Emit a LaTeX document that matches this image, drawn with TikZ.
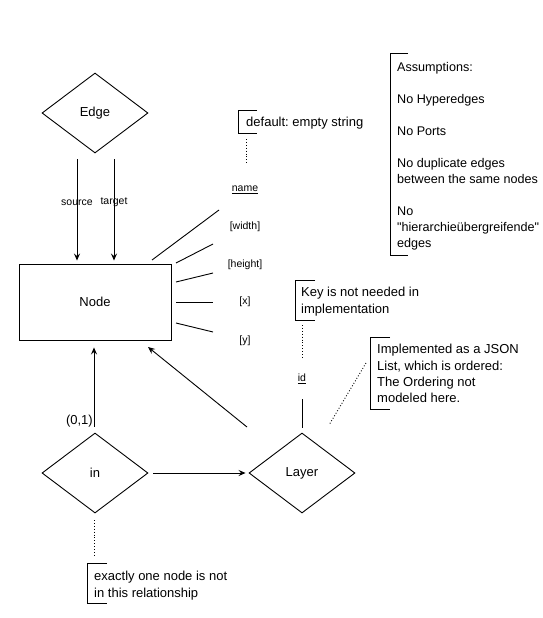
\documentclass[tikz,border=0pt]{standalone}
\usepackage{fontspec}
\setmainfont{Liberation Sans}
\newfontfamily\rawfont{Liberation Sans}[Ligatures=TeXOff]
\usetikzlibrary{shapes.geometric,arrows.meta,shadows}
\frenchspacing
\begin{document}
\begin{tikzpicture}[x=1pt,y=-1pt,
  lw/.style={line width=0.9pt},
  rel/.style={draw,lw,shape=diamond,minimum width=106pt,minimum height=80pt,inner sep=0pt,font=\fontsize{13}{15}\selectfont},
  ent/.style={draw,lw,fill=white,minimum width=152pt,minimum height=76pt,inner sep=0pt,font=\fontsize{13}{15}\selectfont,
     drop shadow={shadow xshift=1.3pt,shadow yshift=-1.3pt,fill=black!50,opacity=1}},
  attr/.style={inner sep=0pt,font=\fontsize{10.5}{12}\selectfont},
  lbl/.style={inner sep=0pt,font=\fontsize{10.5}{12}\selectfont},
  note/.style={inner sep=0pt,anchor=north west,align=left,font=\fontsize{13}{16.3}\selectfont},
  bracket/.style={lw},
  arr/.style={lw,-{Stealth[length=7pt,width=6pt,inset=2.5pt]}},
  dots/.style={lw,dotted},
  attrline/.style={lw}
]
\useasboundingbox (0,0) rectangle (542,618);

% entities and relationships
\node[rel] (edge) at (95,113) {Edge};
\node[ent] (nodeE) at (95,302) {Node};
\node[rel] (in) at (95,473) {in};
\node[rel] (layer) at (302,473) {Layer};

% attributes
\node[attr] (name) at (245,190) {\underline{name}};
\node[attr] (width) at (245,227) {[width]};
\node[attr] (height) at (245,265) {[height]};
\node[attr] (xat) at (245,302) {[x]};
\node[attr] (yat) at (245,341) {[y]};
\node[attr] (id) at (302,379) {\underline{id}};

% attribute lines
\coordinate (a1s) at (152,260); \coordinate (a1e) at (219,210);
\coordinate (a2s) at (176,263); \coordinate (a2e) at (213,244);
\coordinate (a3s) at (176,282); \coordinate (a3e) at (213,273);
\coordinate (a4s) at (176,302); \coordinate (a4e) at (213,302);
\coordinate (a5s) at (176,323); \coordinate (a5e) at (213,332);
\draw[attrline] (a1s) -- (a1e);
\draw[attrline] (a2s) -- (a2e);
\draw[attrline] (a3s) -- (a3e);
\draw[attrline] (a4s) -- (a4e);
\draw[attrline] (a5s) -- (a5e);
\coordinate (ids) at (302,399); \coordinate (ide) at (302,428);
\draw[attrline] (ids) -- (ide);

% arrows
\draw[arr,shorten <=6pt,shorten >=3pt] ([xshift=-18pt]edge.south) -- ([xshift=-18pt]nodeE.north)
  node[lbl,pos=0.45] {source};
\draw[arr,shorten <=6pt,shorten >=3pt] ([xshift=19pt]edge.south) -- ([xshift=19pt]nodeE.north)
  node[lbl,pos=0.44] {target};
\draw[arr,shorten <=6pt,shorten >=7pt] ([xshift=-1pt]in.north) -- ([xshift=-1pt]nodeE.south);
\node[inner sep=0pt,anchor=east,font=\fontsize{13}{15}\selectfont] (card) at (93,421) {(0,1)};
\coordinate (lnA) at (247,427); \coordinate (lnB) at (148,347);
\draw[arr] (lnA) -- (lnB);
\draw[arr,shorten <=5pt,shorten >=3pt] (in.east) -- (layer.west);

% notes
\node[note] (defnote) at (246,116.5) {\rule{0pt}{10pt}default: empty string};
\draw[bracket] (257,110) -- (238,110) -- (238,133) -- (257,133);
\coordinate (d1) at (246,139); \coordinate (d2) at (246,165);
\draw[dots] (d1) -- (d2);

\node[note,font=\fontsize{12.6}{16}\selectfont] (assume) at (397,61.5) {\rule{0pt}{10pt}Assumptions:\\[16pt]
No Hyperedges\\[16pt]
No Ports\\[16pt]
No duplicate edges\\
between the same nodes\\[16pt]
No\\
{\rawfont "hierarchieübergreifende"}\\
edges};
\draw[bracket] (408,53) -- (390,53) -- (390,255) -- (408,255);

\node[note] (keynote) at (301,286.5) {\rule{0pt}{10pt}Key is not needed in\\implementation};
\draw[bracket] (315,280) -- (295,280) -- (295,320) -- (315,320);
\coordinate (k1) at (302,325); \coordinate (k2) at (302,357);
\draw[dots] (k1) -- (k2);

\node[note] (implnote) at (377,343.5) {\rule{0pt}{10pt}Implemented as a JSON\\List, which is ordered:\\The Ordering not\\modeled here.};
\draw[bracket] (390,337) -- (370,337) -- (370,409) -- (390,409);
\coordinate (i1) at (366,363); \coordinate (i2) at (329,425);
\draw[dots] (i1) -- (i2);

\node[note] (exnote) at (94,570.5) {\rule{0pt}{10pt}exactly one node is not\\in this relationship};
\draw[bracket] (107,563) -- (87,563) -- (87,603) -- (107,603);
\coordinate (e1) at (94,520); \coordinate (e2) at (94,557);
\draw[dots] (e1) -- (e2);
\end{tikzpicture}
\end{document}
